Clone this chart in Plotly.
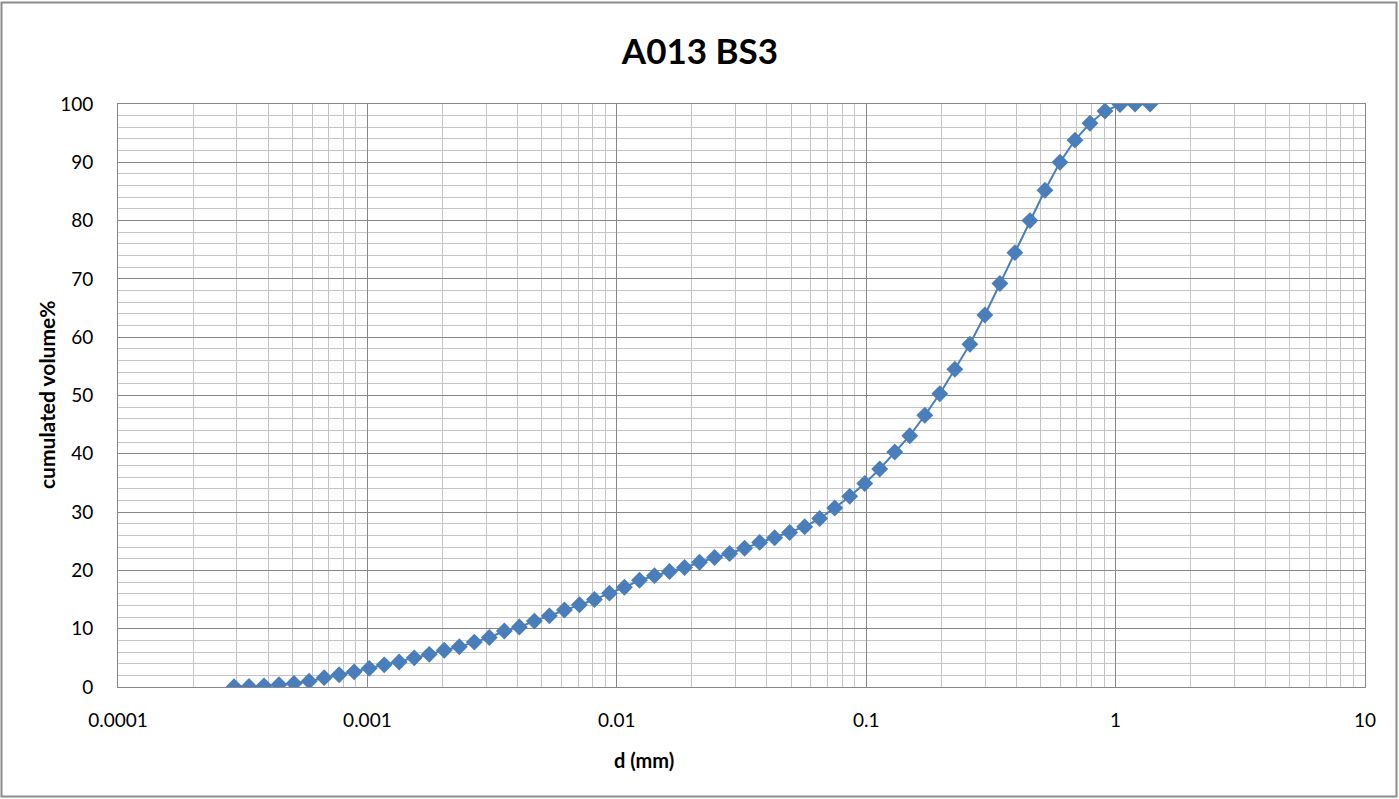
import plotly.graph_objects as go

# particle diameter (mm)
diameter_mm = [
    0.000292, 0.000335, 0.000385, 0.000442, 0.000508, 0.000584, 0.000671, 0.000770,
    0.000885, 0.001017, 0.001168, 0.001341, 0.001541, 0.001770, 0.002033, 0.002336,
    0.002683, 0.003082, 0.003540, 0.004067, 0.004672, 0.005367, 0.006165, 0.007082,
    0.008135, 0.009344, 0.01073, 0.01233, 0.01416, 0.01627, 0.01869, 0.02147,
    0.02466, 0.02833, 0.03254, 0.03738, 0.04294, 0.04933, 0.05666, 0.06509,
    0.07477, 0.08589, 0.09866, 0.1133, 0.1302, 0.1495, 0.1718, 0.1973,
    0.2267, 0.2604, 0.2991, 0.3436, 0.3947, 0.4534, 0.5208, 0.5982,
    0.6872, 0.7894, 0.9068, 1.0416, 1.1965, 1.3744,
]
# cumulated volume %
cum_volume = [
    0.05, 0.1, 0.2, 0.4, 0.6, 1.0, 1.6, 2.1,
    2.6, 3.2, 3.8, 4.3, 5.0, 5.6, 6.3, 6.9,
    7.7, 8.5, 9.6, 10.3, 11.3, 12.2, 13.2, 14.1,
    15.0, 16.1, 17.1, 18.3, 19.1, 19.8, 20.5, 21.4,
    22.2, 22.9, 23.8, 24.8, 25.6, 26.5, 27.5, 28.9,
    30.7, 32.7, 34.9, 37.4, 40.3, 43.1, 46.6, 50.3,
    54.5, 58.8, 63.8, 69.2, 74.5, 80.0, 85.2, 90.0,
    93.8, 96.7, 98.8, 99.9, 100.0, 100.0,
]
x_tick_vals = [0.0001, 0.001, 0.01, 0.1, 1, 10]
x_tick_text = ["0.0001", "0.001", "0.01", "0.1", "1", "10"]
y_tick_vals = [0, 10, 20, 30, 40, 50, 60, 70, 80, 90, 100]

title_text = "A013 BS3"
x_title = "d (mm)"
y_title = "cumulated volume%"

FONT = "Lato, 'Open Sans', sans-serif"
BLUE = "#4A7EBB"
MAJOR = "#878787"
MINOR = "#C4C4C4"

fig = go.Figure()
fig.add_trace(go.Scatter(
    x=diameter_mm, y=cum_volume, mode="lines+markers",
    line=dict(color=BLUE, width=2),
    marker=dict(symbol="diamond", size=13, color=BLUE),
    showlegend=False,
))

W, H = 1399, 799
L, R, T, B = 118, 34, 104, 112
pw, ph = W - L - R, H - T - B

def px_to_paper_x(px):
    return (px - L) / pw

def px_to_paper_y(py):
    return (H - B - py) / ph

fig.update_layout(
    width=W, height=H,
    margin=dict(l=L, r=R, t=T, b=B, autoexpand=False),
    paper_bgcolor="white", plot_bgcolor="white",
    font=dict(family=FONT, size=19, color="#000000"),
    title=dict(text="<b>" + title_text + "</b>", x=700 / W,
               xanchor="center", y=1 - 52 / H, yanchor="middle",
               font=dict(family=FONT, size=35, color="#000000")),
    xaxis=dict(
        type="log", range=[-4, 1],
        tickvals=x_tick_vals, ticktext=x_tick_text,
        showgrid=True, gridcolor=MAJOR, gridwidth=1,
        minor=dict(dtick="D1", showgrid=True, gridcolor=MINOR, gridwidth=1, ticks=""),
        ticks="", ticklabelstandoff=16,
        showline=True, linecolor=MAJOR, linewidth=1, mirror=True,
        zeroline=False,
        tickfont=dict(family=FONT, size=19),
    ),
    yaxis=dict(
        range=[0, 100], tickvals=y_tick_vals,
        showgrid=True, gridcolor=MAJOR, gridwidth=1,
        minor=dict(dtick=2, showgrid=True, gridcolor=MINOR, gridwidth=1, ticks=""),
        ticks="", ticklabelstandoff=20,
        showline=True, linecolor=MAJOR, linewidth=1, mirror=True,
        zeroline=False,
        tickfont=dict(family=FONT, size=19),
    ),
    annotations=[
        dict(text="<b>" + x_title + "</b>", xref="paper", yref="paper",
             x=px_to_paper_x(644), y=px_to_paper_y(760), xanchor="center", yanchor="middle",
             showarrow=False, font=dict(family=FONT, size=20)),
        dict(text="<b>" + y_title + "</b>", xref="paper", yref="paper",
             x=px_to_paper_x(46), y=px_to_paper_y(395), xanchor="center", yanchor="middle",
             textangle=-90, showarrow=False, font=dict(family=FONT, size=21)),
    ],
    shapes=[
        dict(type="rect", xref="paper", yref="paper",
             x0=px_to_paper_x(1.5), x1=px_to_paper_x(1396.5),
             y0=px_to_paper_y(796.5), y1=px_to_paper_y(2.5),
             line=dict(color="#8C8C8C", width=2), fillcolor="rgba(0,0,0,0)", layer="above"),
    ],
)

fig.write_html(
    "out.html",
    config={"displayModeBar": False},
    post_script="document.body.style.margin='0';document.body.style.overflow='hidden';",
)
